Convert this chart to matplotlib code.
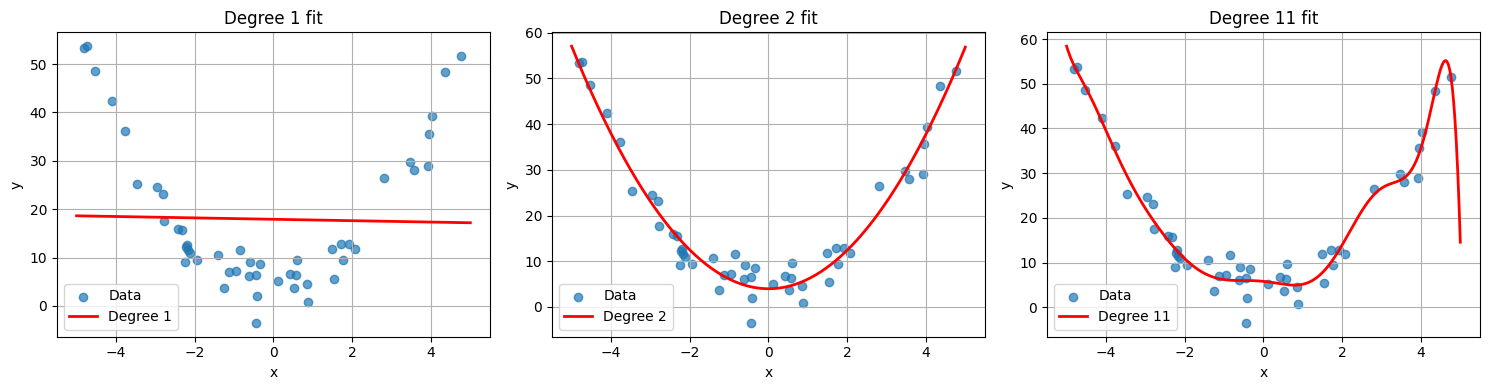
import numpy as np
import matplotlib
matplotlib.use('Agg')
import matplotlib.pyplot as plt

# points
x_data = np.array([-4.80, -4.74, -4.52, -4.10, -3.78, -3.46, -2.96, -2.81, -2.78, -2.43,
                   -2.32, -2.19, -2.23, -2.17, -2.11, -2.25, -1.95, -1.41, -1.25, -1.13,
                   -0.94, -0.86, -0.60, -0.62, -0.45, -0.33, -0.43, -0.44, 0.11, 0.43,
                   0.57, 0.60, 0.51, 0.85, 0.89, 1.48, 1.54, 1.71, 1.76, 1.93,
                   2.06, 2.80, 3.47, 3.58, 3.92, 3.95, 4.03, 4.36, 4.76])
y_data = np.array([53.4, 53.7, 48.5, 42.4, 36.1, 25.3, 24.6, 23.1, 17.6, 15.9,
                   15.6, 12.7, 12.2, 11.5, 11.0, 9.1, 9.4, 10.6, 3.7, 7.0,
                   7.2, 11.6, 9.1, 6.1, 6.5, 8.6, 2.0, -3.5, 5.1, 6.7,
                   6.4, 9.6, 3.7, 4.6, 0.8, 11.8, 5.5, 12.8, 9.4, 12.8,
                   11.8, 26.4, 29.7, 28.1, 29.0, 35.6, 39.3, 48.3, 51.6])
degrees = [1, 2, 11]

def main():
    fig, axes = plt.subplots(1, 3, figsize=(15, 4), dpi=100)
    x_line = np.linspace(-5, 5, 300)
    for ax, d in zip(axes, degrees):
        coef = np.polyfit(x_data, y_data, d)
        ax.scatter(x_data, y_data, alpha=0.7, label='Data')
        ax.plot(x_line, np.polyval(coef, x_line), color='red', linewidth=2, label=f'Degree {d}')
        ax.set_title(f'Degree {d} fit')
        ax.set_xlabel('x')
        ax.set_ylabel('y')
        ax.legend(loc='lower left')
        ax.grid(True)
    plt.tight_layout()
    plt.savefig('out.png', bbox_inches='tight')

if __name__ == '__main__':
    main()
